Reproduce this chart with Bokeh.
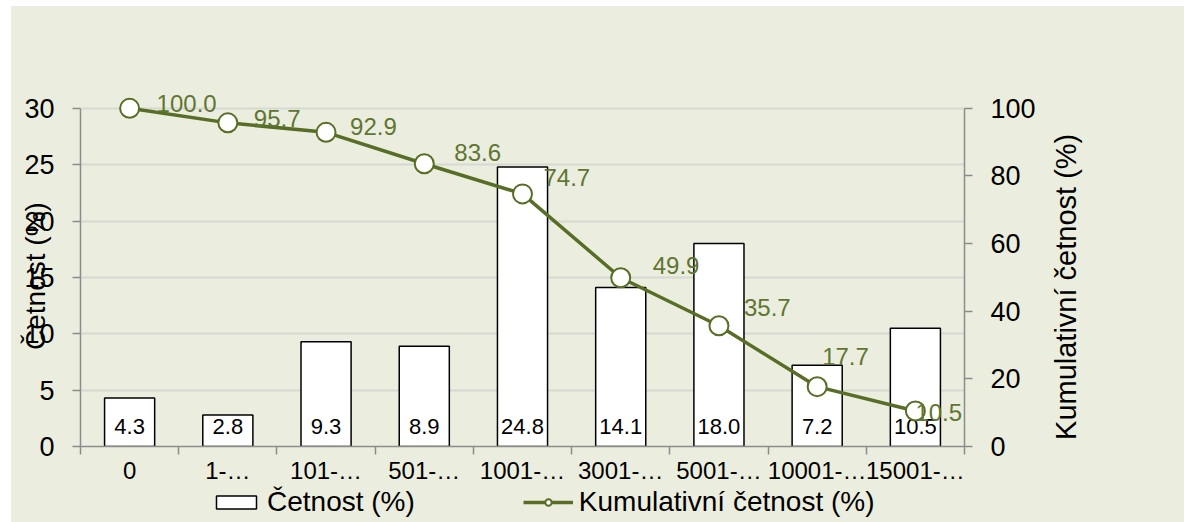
import numpy as np
from bokeh.plotting import figure
from bokeh.layouts import column, row
from bokeh.models import (Range1d, LinearAxis, FixedTicker, ColumnDataSource,
                          Legend, LegendItem)
from bokeh.core.properties import value
from bokeh.embed import file_html
from bokeh.resources import INLINE

# ---- data ----
categories = ["0", "1-…", "101-…", "501-…", "1001-…", "3001-…", "5001-…", "10001-…", "15001-…"]
cetnost = [4.3, 2.8, 9.3, 8.9, 24.8, 14.1, 18.0, 7.2, 10.5]
kumulativni = [100.0, 95.7, 92.9, 83.6, 74.7, 49.9, 35.7, 17.7, 10.5]
left_ticks = [0, 5, 10, 15, 20, 25, 30]
right_ticks = [0, 20, 40, 60, 80, 100]
series_names = ["Četnost (%)", "Kumulativní četnost (%)"]

# label placement (screen px) for cumulative labels
lab_dx = [27, 26, 24, 30, 21, 32, 25, 5, 0]
lab_dy = [-5, -4, -6, -11, -16, -12, -18, -30, 2]

FONT = "Liberation Sans"
BG = "#EBEEDF"
GREEN = "#586D26"
LABEL_GREEN = "#5F7532"
AXIS_GREY = "#8C8C8C"

n = len(categories)
xs = list(np.arange(n) + 0.5)

MARGIN_TOP, MARGIN_LEFT = 6, 11
MAIN_H = 480
p = figure(width=1029, height=MAIN_H, output_backend="svg", toolbar_location=None,
           x_range=Range1d(0, n), y_range=Range1d(0, 33),
           min_border_left=69, min_border_right=76, min_border_top=68, min_border_bottom=38)
p.background_fill_color = BG
p.border_fill_color = BG
p.outline_line_color = None
p.extra_y_ranges = {"cum": Range1d(0, 110)}

# x axis: labels at category centres, ticks at category boundaries
p.xaxis.ticker = FixedTicker(ticks=xs, minor_ticks=list(range(n + 1)))
p.xaxis.major_label_overrides = {x: c for x, c in zip(xs, categories)}
p.xaxis.major_tick_out = 0
p.xaxis.major_tick_in = 0
p.xaxis.minor_tick_out = 8
p.xaxis.minor_tick_in = 0
p.xaxis.minor_tick_line_color = AXIS_GREY
p.xaxis.minor_tick_line_width = 1.5
p.xaxis.axis_line_color = AXIS_GREY
p.xaxis.axis_line_width = 1.5
p.xaxis.major_label_standoff = 2
p.xaxis.major_label_text_font = FONT
p.xaxis.major_label_text_font_size = "24px"
p.xaxis.major_label_text_color = "black"

yl = p.yaxis[0]
yl.ticker = FixedTicker(ticks=left_ticks, minor_ticks=[])
yl.bounds = (0, 30)
yl.major_tick_out = 8
yl.major_tick_in = 0
yl.major_tick_line_color = AXIS_GREY
yl.major_tick_line_width = 1.5
yl.axis_line_color = AXIS_GREY
yl.axis_line_width = 1.5
yl.major_label_standoff = 18
yl.major_label_text_font = FONT
yl.major_label_text_font_size = "27px"
yl.major_label_text_color = "black"
# trailing no-break spaces re-centre the rotated title on the 0-30 span
yl.axis_label = series_names[0] + "\u00a0" * 4
yl.axis_label_text_font = FONT
yl.axis_label_text_font_size = "28px"
yl.axis_label_text_font_style = "normal"
yl.axis_label_text_color = "black"
yl.axis_label_standoff = -30

yr = LinearAxis(y_range_name="cum", ticker=FixedTicker(ticks=right_ticks, minor_ticks=[]))
yr.bounds = (0, 100)
yr.major_tick_out = 8
yr.major_tick_in = 0
yr.major_tick_line_color = AXIS_GREY
yr.major_tick_line_width = 1.5
yr.axis_line_color = AXIS_GREY
yr.axis_line_width = 1.5
yr.major_label_standoff = 18
yr.major_label_text_font = FONT
yr.major_label_text_font_size = "27px"
yr.major_label_text_color = "black"
p.add_layout(yr, "right")

p.xgrid.visible = False
p.ygrid.ticker = FixedTicker(ticks=left_ticks)
p.ygrid.grid_line_color = "#D6D8D2"
p.ygrid.grid_line_width = 2

src = ColumnDataSource(dict(x=xs, cat=categories, f=cetnost, c=kumulativni,
                            ftxt=["%.1f" % v for v in cetnost],
                            ctxt=["%.1f" % v for v in kumulativni],
                            dx=lab_dx, dy=lab_dy))

p.vbar(x="x", top="f", width=0.51, source=src, fill_color="white",
       line_color="black", line_width=1.5)
p.text(x="x", y=0, text="ftxt", source=src, text_align="center", text_baseline="middle",
       y_offset=-20, text_font=value(FONT), text_font_size="22px", text_color="black")

p.line(x="x", y="c", source=src, y_range_name="cum", line_color=GREEN, line_width=3.5)
p.scatter(x="x", y="c", source=src, y_range_name="cum", size=19, fill_color="white",
          line_color=GREEN, line_width=2)
p.text(x="x", y="c", text="ctxt", source=src, y_range_name="cum", x_offset="dx", y_offset="dy",
       text_align="left", text_baseline="middle", text_font=value(FONT),
       text_font_size="24px", text_color=LABEL_GREEN)

# ---- right-hand title strip ----
RW = 144
p3 = figure(width=RW, height=MAIN_H, output_backend="svg", toolbar_location=None,
            x_range=Range1d(0, RW), y_range=Range1d(0, MAIN_H),
            x_axis_type=None, y_axis_type=None, min_border=0)
p3.background_fill_color = BG
p3.border_fill_color = BG
p3.outline_line_color = None
p3.grid.visible = False
p3.text(x=[25], y=[MAIN_H - (280 - MARGIN_TOP)], text=[series_names[1]], angle=np.pi / 2,
        text_align="center", text_baseline="middle", text_font=value(FONT),
        text_font_size="29px", text_color="black")

# ---- legend strip ----
LH = 522 - MARGIN_TOP - MAIN_H
p2 = figure(width=1184 - MARGIN_LEFT, height=LH, output_backend="svg", toolbar_location=None,
            x_range=Range1d(0, 1), y_range=Range1d(0, 1),
            x_axis_type=None, y_axis_type=None, min_border=0)
p2.background_fill_color = BG
p2.border_fill_color = BG
p2.outline_line_color = None
p2.grid.visible = False
lb = p2.vbar(x=[np.nan], top=[np.nan], width=0.5, fill_color="white", line_color="black",
             line_width=1.5)
ll = p2.line(x=[np.nan, np.nan], y=[np.nan, np.nan], line_color=GREEN, line_width=3.5)
ls = p2.scatter(x=[np.nan], y=[np.nan], size=14, fill_color="white", line_color=GREEN,
                line_width=2)
legend = Legend(items=[LegendItem(label=series_names[0], renderers=[lb]),
                       LegendItem(label=series_names[1], renderers=[ll, ls])],
                orientation="horizontal", location=(211 - MARGIN_LEFT, 4),
                background_fill_alpha=0, border_line_color=None, padding=0, margin=0,
                spacing=108, glyph_width=50, glyph_height=16, label_standoff=6,
                label_text_font=FONT, label_text_font_size="28px", label_text_color="black")
p2.add_layout(legend, "center")

layout = column(row(p, p3, spacing=0, styles={"background-color": BG}), p2, spacing=0,
                margin=(MARGIN_TOP, 0, 0, MARGIN_LEFT), styles={"background-color": BG})
open("out.html", "w").write(file_html(layout, INLINE))
